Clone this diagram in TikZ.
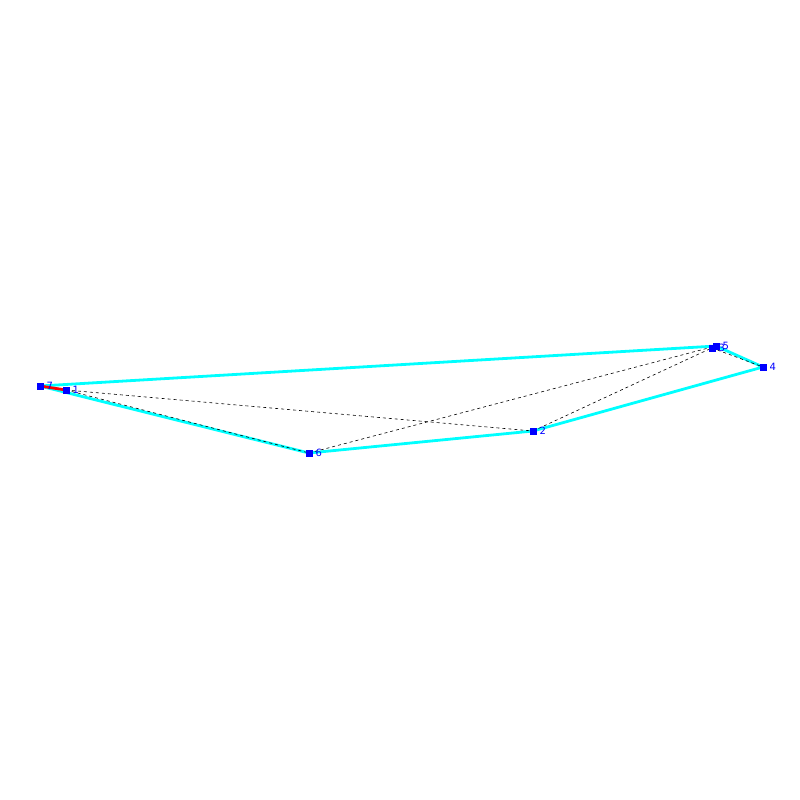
\documentclass[tikz,border=0pt]{standalone}
\usepackage{fontspec}
\setmainfont{DejaVu Sans}
\definecolor{cy}{RGB}{0,255,255}
\definecolor{bl}{RGB}{0,0,255}
\definecolor{rd}{RGB}{255,0,0}
\begin{document}
\begin{tikzpicture}[x=1pt,y=-1pt,
  pt/.style={fill=bl,minimum size=7pt,inner sep=0pt,outer sep=0pt},
  lab/.style={text=bl,font=\fontsize{10}{10}\selectfont,inner sep=0pt,anchor=west,xshift=3pt},
  edge/.style={cy,line width=2.8pt},
  dsh/.style={black,line width=0.6pt,dash pattern=on 3pt off 3pt}]
\useasboundingbox (0,0) rectangle (800,800);
\coordinate (p7) at (40,386);
\coordinate (p1) at (66,390);
\coordinate (p6) at (309,453);
\coordinate (p2) at (533,431);
\coordinate (p4) at (763,367);
\coordinate (p5) at (716,346);
\coordinate (p3) at (712,348);
\draw[edge] (p7) -- (p5);
\draw[edge] (p7) -- (p6) -- (p2) -- (p4) -- (p5);
\draw[rd,line width=2.8pt] (p7) -- (p1);
\draw[dsh] (p1) -- (p2);
\draw[dsh] (p1) -- (p6);
\draw[dsh] (p6) -- (p5);
\draw[dsh] (p2) -- (p5);
\draw[dsh] (p3) -- (p4);
\node[pt] (n7) at (p7) {};
\node[pt] (n1) at (p1) {};
\node[pt] (n6) at (p6) {};
\node[pt] (n2) at (p2) {};
\node[pt] (n4) at (p4) {};
\node[pt] (n3) at (p3) {};
\node[pt] (n5) at (p5) {};
\node[lab] at (n7.east) {7};
\node[lab] at (n1.east) {1};
\node[lab] at (n6.east) {6};
\node[lab] at (n2.east) {2};
\node[lab] at (n4.east) {4};
\node[lab] at (n3.east) {3};
\node[lab] at (n5.east) {5};
\end{tikzpicture}
\end{document}
